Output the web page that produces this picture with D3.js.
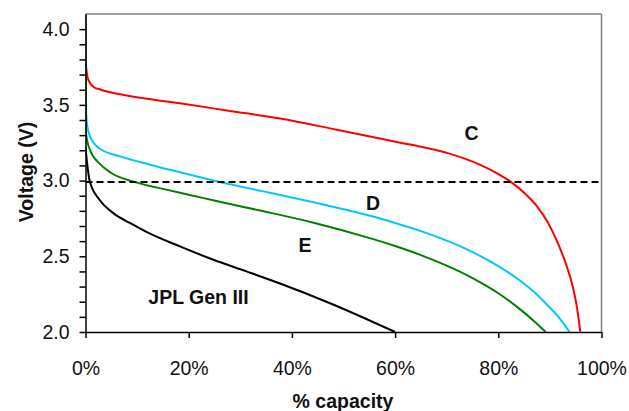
<!DOCTYPE html>
<html>
<head>
<meta charset="utf-8">
<script src="https://cdn.jsdelivr.net/npm/d3@7"></script>
<style>
  body { margin: 0; background: #fff; }
  svg { display: block; font-family: "Liberation Sans", Arial, sans-serif; }
  .axis text { font-size: 19.5px; fill: #111; }
  .axis path, .axis line { stroke: #000; stroke-width: 1.5; }
  .title { font-size: 19.5px; font-weight: bold; fill: #111; }
  .lbl { font-size: 19.5px; font-weight: bold; fill: #111; text-anchor: middle; }
  .curve { fill: none; stroke-width: 2; }
</style>
</head>
<body>
<script>
// cell C
const cCap  = [0, 0.4, 1.5, 3, 6.7, 12, 18.3, 28, 37.7, 48.7, 61.5, 64.5, 67.5, 70.5, 73.5, 76.5, 79.5, 82.5, 85, 87.5, 89.5, 91.5, 93, 94.5, 95.3, 95.9];
const cVolt = [3.79, 3.68, 3.62, 3.60, 3.57, 3.54, 3.51, 3.46, 3.41, 3.336, 3.247, 3.227, 3.205, 3.178, 3.145, 3.104, 3.053, 2.99, 2.92, 2.83, 2.73, 2.59, 2.46, 2.29, 2.15, 2.0];
// cell D
const dCap  = [0, 0.3, 0.9, 2.8, 6.7, 12.5, 18.3, 26, 34.7, 44.4, 50, 55, 60, 65, 70, 75, 80, 84, 87, 90, 92, 93.8];
const dVolt = [3.52, 3.37, 3.29, 3.21, 3.16, 3.105, 3.055, 2.99, 2.927, 2.855, 2.811, 2.769, 2.72, 2.666, 2.603, 2.528, 2.435, 2.345, 2.262, 2.16, 2.085, 2.0];
// cell E
const eCap  = [0, 0.1, 0.9, 2.8, 5, 9.6, 15, 20.2, 26, 34.7, 44.4, 55.1, 60, 65, 70, 75, 80, 84, 87, 89.2];
const eVolt = [4.12, 3.31, 3.20, 3.11, 3.05, 2.99, 2.945, 2.905, 2.86, 2.796, 2.72, 2.62, 2.568, 2.508, 2.438, 2.356, 2.256, 2.156, 2.07, 2.0];
// JPL Gen III
const jCap  = [0, 0.23, 0.87, 2.8, 5.4, 8.6, 11.9, 18.3, 24.8, 31.2, 37.7, 47.4, 60];
const jVolt = [3.22, 3.14, 2.99, 2.87, 2.785, 2.72, 2.66, 2.565, 2.477, 2.40, 2.32, 2.19, 2.0];

const xTicks = [0, 20, 40, 60, 80, 100];
const yTicks = d3.range(20, 41).map(d => d / 10);
const cutoff = 2.99;

const series = [
    { name: 'C', cap: cCap, volt: cVolt, color: '#ff0000', label: [471.5, 133] },
    { name: 'D', cap: dCap, volt: dVolt, color: '#00c8ff', label: [373, 203] },
    { name: 'E', cap: eCap, volt: eVolt, color: '#008000', label: [305, 245] },
    { name: 'JPL Gen III', cap: jCap, volt: jVolt, color: '#000000', label: [198.5, 297] }
];

const W = 629, H = 411;
const x = d3.scaleLinear().domain([0, 100]).range([85.5, 601.5]);
const y = d3.scaleLinear().domain([2, 4.1]).range([332, 14]);

const svg = d3.select('body').append('svg')
    .attr('width', W).attr('height', H);

svg.append('defs').append('clipPath').attr('id', 'plot')
    .append('rect')
    .attr('x', x(0)).attr('y', y(4.1))
    .attr('width', x(100) - x(0)).attr('height', y(2) - y(4.1));

// frame top / right
svg.append('line')
    .attr('x1', x(0)).attr('x2', x(100)).attr('y1', y(4.1)).attr('y2', y(4.1))
    .attr('stroke', '#808080').attr('stroke-width', 1.5);
svg.append('line')
    .attr('x1', x(100)).attr('x2', x(100)).attr('y1', y(4.1)).attr('y2', y(2))
    .attr('stroke', '#808080').attr('stroke-width', 1.5);

// curves
const line = d3.line()
    .x(d => x(d[0]))
    .y(d => y(d[1]))
    .curve(d3.curveMonotoneX);

const plot = svg.append('g').attr('clip-path', 'url(#plot)');

plot.selectAll('.curve')
    .data(series)
    .enter().append('path')
    .attr('class', 'curve')
    .attr('stroke', d => d.color)
    .attr('d', d => line(d.cap.map((c, i) => [c, d.volt[i]])));

// 3.0 V cutoff
plot.append('line')
    .attr('x1', x(0)).attr('x2', x(100))
    .attr('y1', y(cutoff)).attr('y2', y(cutoff))
    .attr('stroke', '#000').attr('stroke-width', 2)
    .attr('stroke-dasharray', '7,4');

// axes
svg.append('g')
    .attr('class', 'axis')
    .attr('transform', `translate(${x(0)},0)`)
    .call(d3.axisLeft(y)
        .tickValues(yTicks)
        .tickSize(6).tickSizeOuter(0).tickPadding(10)
        .tickFormat(d => Math.round(d * 10) % 5 === 0 ? d.toFixed(1) : ''));

svg.append('g')
    .attr('class', 'axis')
    .attr('transform', `translate(0,${y(2)})`)
    .call(d3.axisBottom(x)
        .tickValues(xTicks)
        .tickSize(6).tickSizeOuter(0).tickPadding(23)
        .tickFormat(d => d + '%'));

// titles
svg.append('text')
    .attr('class', 'title')
    .attr('text-anchor', 'middle')
    .attr('x', 343).attr('y', 408)
    .text('% capacity');

svg.append('text')
    .attr('class', 'title')
    .attr('text-anchor', 'middle')
    .attr('transform', 'translate(33,172) rotate(-90)')
    .text('Voltage (V)');

// curve labels
svg.selectAll('.lbl')
    .data(series)
    .enter().append('text')
    .attr('class', 'lbl')
    .attr('x', d => d.label[0])
    .attr('y', d => d.label[1])
    .attr('dy', '0.36em')
    .text(d => d.name);
</script>
</body>
</html>
